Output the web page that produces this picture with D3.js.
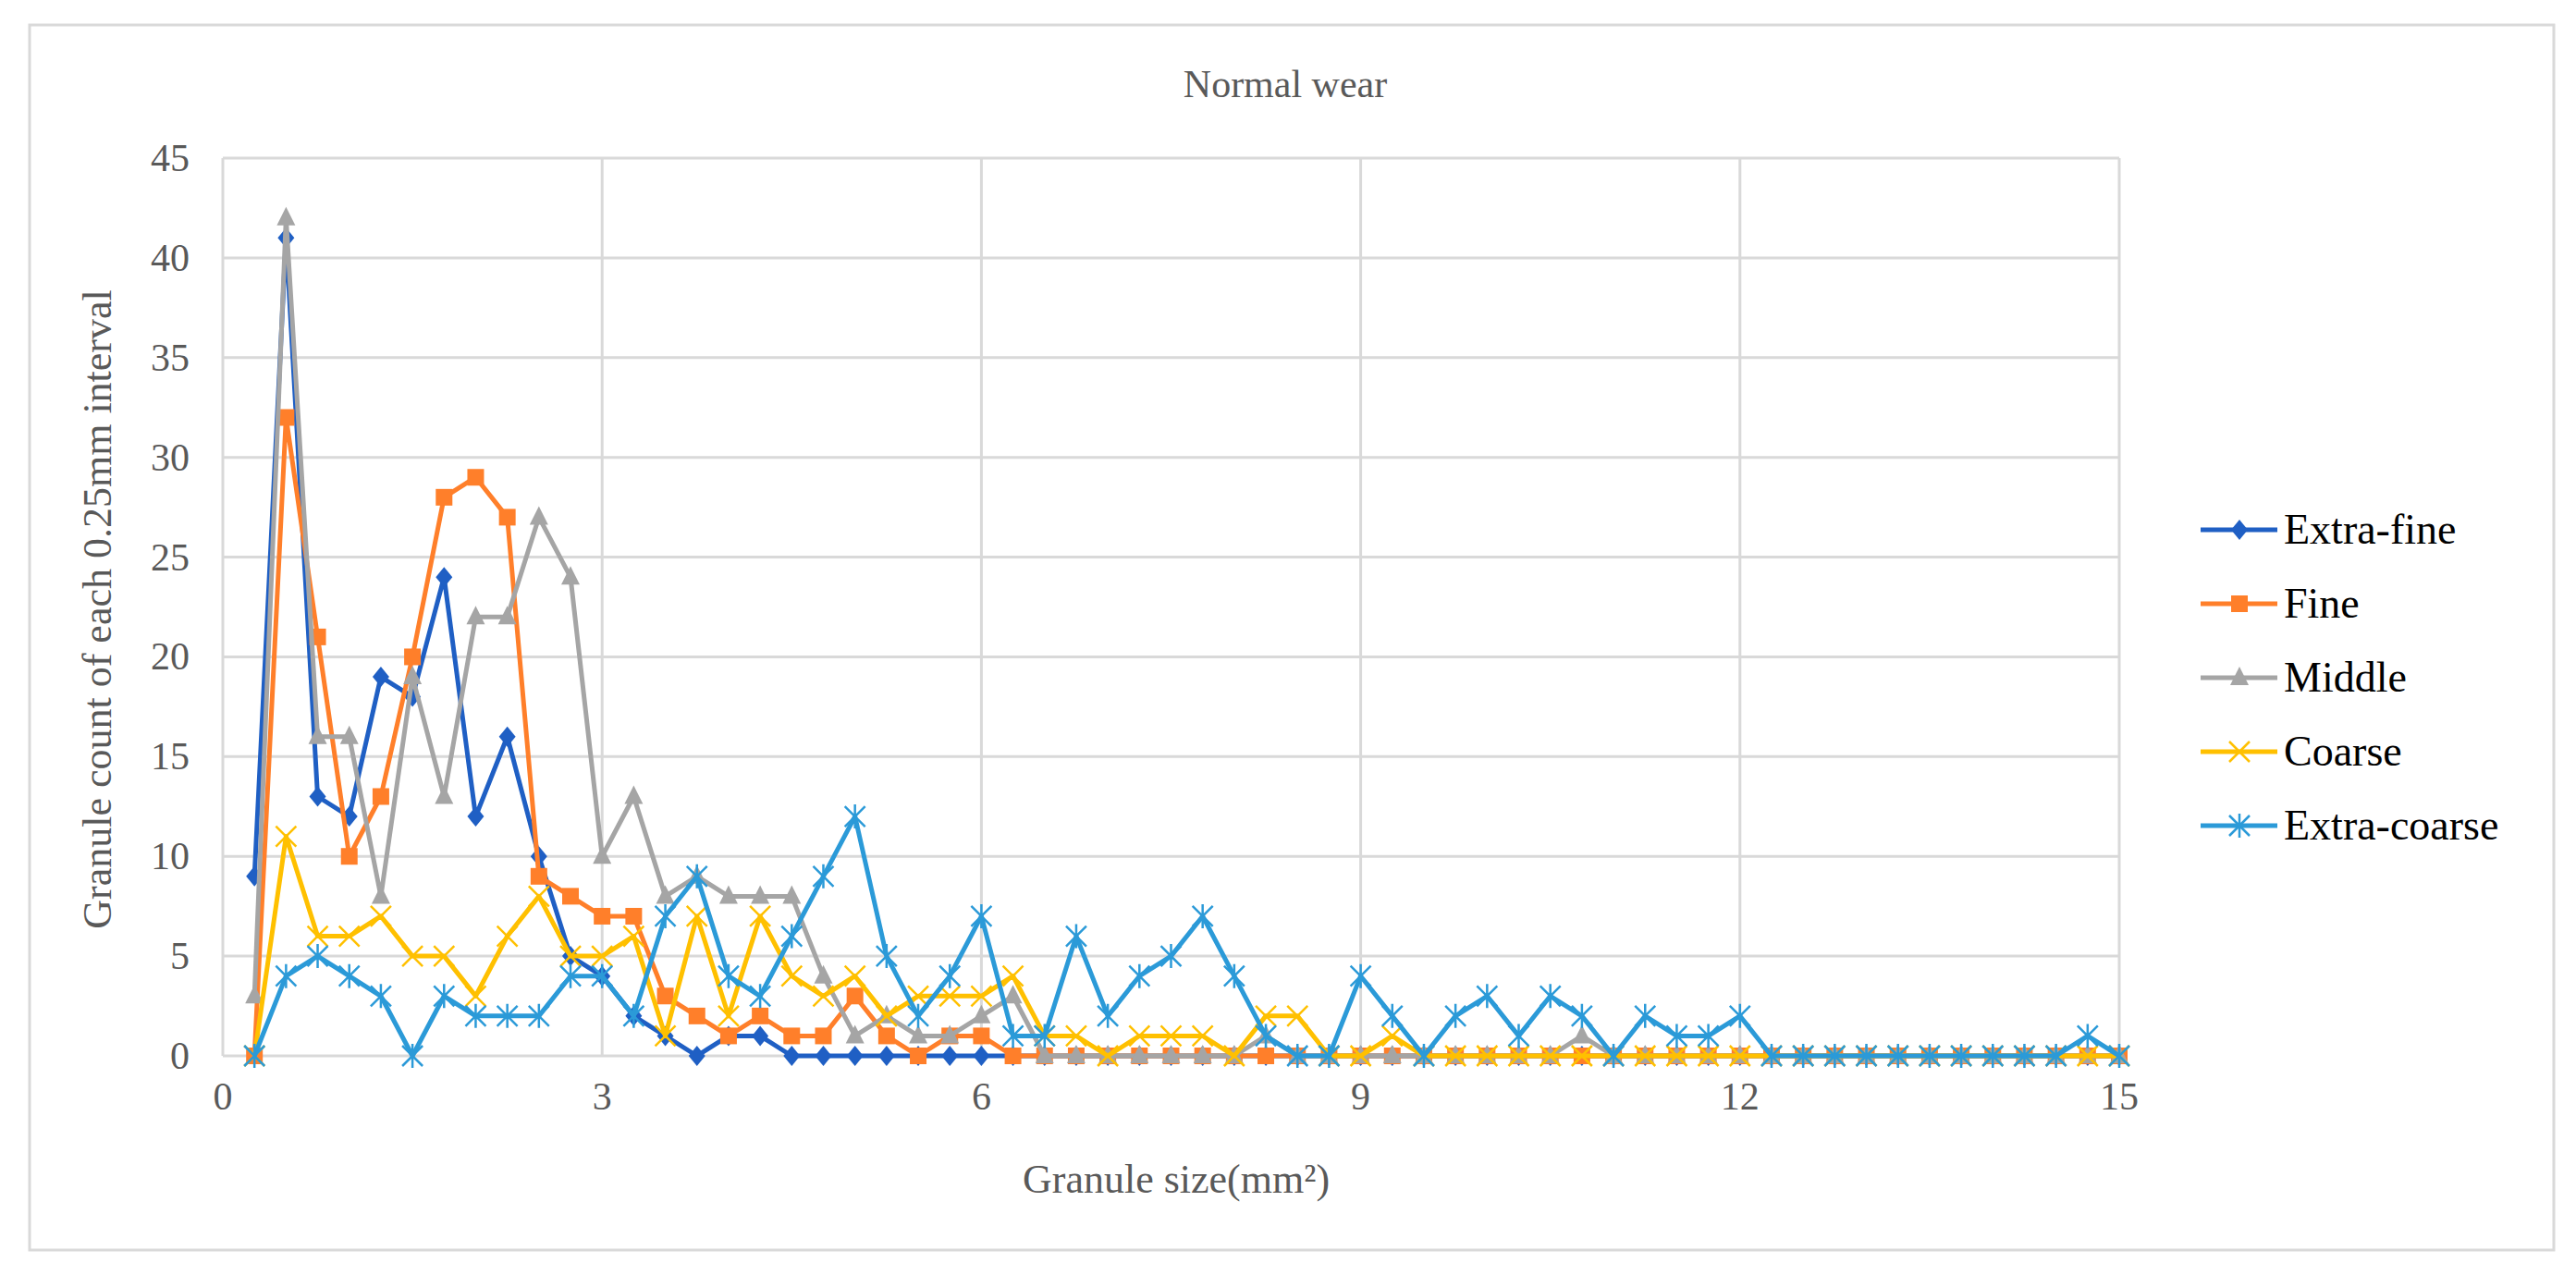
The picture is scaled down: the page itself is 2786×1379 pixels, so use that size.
<!DOCTYPE html>
<html>
<head>
<meta charset="utf-8">
<script src="https://cdn.jsdelivr.net/npm/d3@7"></script>
<style>
  body { margin:0; background:#fff; }
</style>
</head>
<body>
<script>
// x values: 0.25 .. 15 in 0.25 steps
let sizes = d3.range(1, 61).map(d => d * 0.25);

let extraFine   = [9,41,13,12,19,18,24,12,16,10,5,4,2,1,0,1,1,0,0,0,0,0,0,0,0,0,0,0,0,0,0,0,0,0,0,0,0,0,0,0,0,0,0,0,0,0,0,0,0,0,0,0,0,0,0,0,0,0,0,0];
let fine        = [0,32,21,10,13,20,28,29,27,9,8,7,7,3,2,1,2,1,1,3,1,0,1,1,0,0,0,0,0,0,0,0,0,0,0,0,0,0,0,0,0,0,0,0,0,0,0,0,0,0,0,0,0,0,0,0,0,0,0,0];
let middle      = [3,42,16,16,8,19,13,22,22,27,24,10,13,8,9,8,8,8,4,1,2,1,1,2,3,0,0,0,0,0,0,0,1,0,0,0,0,0,0,0,0,0,1,0,0,0,0,0,0,0,0,0,0,0,0,0,0,0,0,0];
let coarse      = [0,11,6,6,7,5,5,3,6,8,5,5,6,1,7,2,7,4,3,4,2,3,3,3,4,1,1,0,1,1,1,0,2,2,0,0,1,0,0,0,0,0,0,0,0,0,0,0,0,0,0,0,0,0,0,0,0,0,0,0];
let extraCoarse = [0,4,5,4,3,0,3,2,2,2,4,4,2,7,9,4,3,6,9,12,5,2,4,7,1,1,6,2,4,5,7,4,1,0,0,4,2,0,2,3,1,3,2,0,2,1,1,2,0,0,0,0,0,0,0,0,0,0,1,0];

let seriesNames = ['Extra-fine','Fine','Middle','Coarse','Extra-coarse'];
let seriesVals  = [extraFine, fine, middle, coarse, extraCoarse];
let colors      = ['#1f5fc4','#ff7f2a','#a5a5a5','#ffc000','#2b9ad8'];
let markers     = ['diamond','square','triangle','x','star'];

let xTicks = [0,3,6,9,12,15];
let yTicks = d3.range(0, 50, 5);

let FONT = '"Liberation Serif", "DejaVu Serif", serif';
let W = 2786, H = 1379;
let svg = d3.select('body').append('svg').attr('width', W).attr('height', H)
  .attr('font-family', FONT);

svg.append('rect').attr('x',32).attr('y',27).attr('width',2730).attr('height',1325)
  .attr('fill','#fff').attr('stroke','#d9d9d9').attr('stroke-width',3);

let x = d3.scaleLinear().domain([0,15]).range([241,2292]);
let y = d3.scaleLinear().domain([0,45]).range([1142,171]);

// grid
svg.append('g').selectAll('line').data(yTicks).enter().append('line')
  .attr('x1', x(0)).attr('x2', x(15)).attr('y1', d => y(d)).attr('y2', d => y(d))
  .attr('stroke','#d9d9d9').attr('stroke-width',3);
svg.append('g').selectAll('line').data(xTicks).enter().append('line')
  .attr('y1', y(0)).attr('y2', y(45)).attr('x1', d => x(d)).attr('x2', d => x(d))
  .attr('stroke','#d9d9d9').attr('stroke-width',3);

// axes labels
svg.append('g').selectAll('text').data(yTicks).enter().append('text')
  .attr('x', 205).attr('y', d => y(d) + 14).attr('text-anchor','end')
  .attr('font-size', 42).attr('fill','#595959').text(d => d);
svg.append('g').selectAll('text').data(xTicks).enter().append('text')
  .attr('x', d => x(d)).attr('y', 1200).attr('text-anchor','middle')
  .attr('font-size', 42).attr('fill','#595959').text(d => d);

svg.append('text').attr('x', 1390).attr('y', 105).attr('text-anchor','middle')
  .attr('font-size', 42).attr('fill','#595959').text('Normal wear');
svg.append('text').attr('x', 1272).attr('y', 1290).attr('text-anchor','middle')
  .attr('font-size', 44).attr('fill','#595959').text('Granule size(mm²)');
svg.append('text').attr('transform','translate(120,659) rotate(-90)').attr('text-anchor','middle')
  .attr('font-size', 44).attr('fill','#595959').text('Granule count of  each 0.25mm interval');

function drawMarker(g, type, color, cx, cy) {
  if (type === 'diamond') {
    g.append('path').attr('d', `M${cx},${cy-11}L${cx+9},${cy}L${cx},${cy+11}L${cx-9},${cy}Z`).attr('fill', color);
  } else if (type === 'square') {
    g.append('rect').attr('x', cx-9).attr('y', cy-9).attr('width',18).attr('height',18).attr('fill', color);
  } else if (type === 'triangle') {
    g.append('path').attr('d', `M${cx},${cy-12}L${cx+10},${cy+8}L${cx-10},${cy+8}Z`).attr('fill', color);
  } else if (type === 'x') {
    g.append('path').attr('d', `M${cx-11},${cy-11}L${cx+11},${cy+11}M${cx+11},${cy-11}L${cx-11},${cy+11}`)
      .attr('stroke', color).attr('stroke-width', 2.5);
  } else {
    g.append('path').attr('d', `M${cx-11},${cy-11}L${cx+11},${cy+11}M${cx+11},${cy-11}L${cx-11},${cy+11}M${cx},${cy-13}L${cx},${cy+13}`)
      .attr('stroke', color).attr('stroke-width', 2.5);
  }
}

let line = d3.line().x((d,i) => x(sizes[i])).y(d => y(d));

seriesVals.forEach((vals, s) => {
  let g = svg.append('g');
  g.append('path').datum(vals).attr('d', line).attr('fill','none')
    .attr('stroke', colors[s]).attr('stroke-width', 5).attr('stroke-linejoin','round');
  vals.forEach((v, i) => drawMarker(g, markers[s], colors[s], x(sizes[i]), y(v)));
});

// legend
seriesNames.forEach((name, s) => {
  let ly = 573 + s * 80;
  let g = svg.append('g');
  g.append('line').attr('x1', 2380).attr('x2', 2463).attr('y1', ly).attr('y2', ly)
    .attr('stroke', colors[s]).attr('stroke-width', 5);
  drawMarker(g, markers[s], colors[s], 2422, ly);
  g.append('text').attr('x', 2470).attr('y', ly + 15).attr('font-size', 46).attr('fill','#000').text(name);
});
</script>
</body>
</html>
